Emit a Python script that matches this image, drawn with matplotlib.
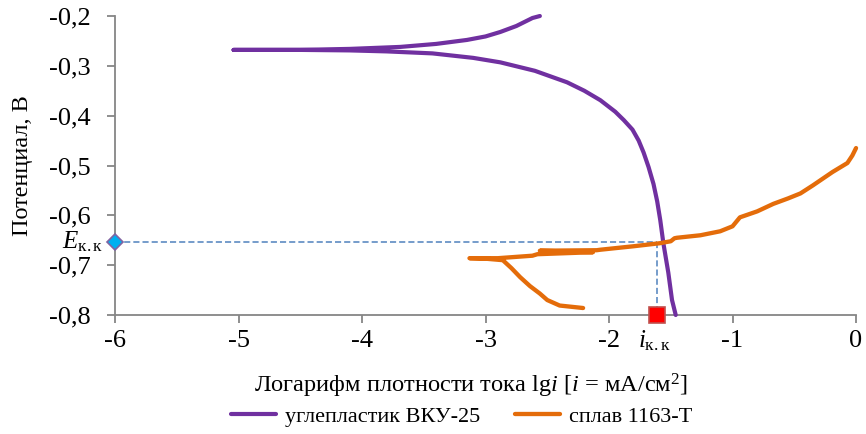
import matplotlib
matplotlib.use("Agg")
import matplotlib.pyplot as plt
from matplotlib.ticker import FuncFormatter

plt.rcParams['font.family'] = ['Liberation Serif', 'DejaVu Serif']
plt.rcParams['mathtext.fontset'] = 'custom'
plt.rcParams['mathtext.rm'] = 'Liberation Serif'
plt.rcParams['mathtext.it'] = 'Liberation Serif:italic'

# углепластик ВКУ-25 (верхняя ветвь -> горизонталь -> нижняя ветвь)
vku_x = [-2.56, -2.62, -2.75, -2.88, -3.00, -3.15, -3.40, -3.69, -4.10, -4.50, -5.04,
         -4.50, -4.10, -3.80, -3.43, -3.10, -2.88, -2.60, -2.34, -2.20, -2.07, -1.95,
         -1.88, -1.81, -1.76, -1.72, -1.68, -1.64, -1.61, -1.585, -1.56, -1.52, -1.49, -1.46]
vku_y = [-0.200, -0.204, -0.220, -0.232, -0.241, -0.248, -0.256, -0.262, -0.266, -0.268, -0.268,
         -0.268, -0.269, -0.271, -0.275, -0.284, -0.293, -0.310, -0.333, -0.350, -0.369, -0.392,
         -0.409, -0.428, -0.450, -0.474, -0.503, -0.537, -0.572, -0.610, -0.656, -0.715, -0.770, -0.800]

# сплав 1163-Т
spl_x = [-2.21, -2.40, -2.50, -2.56, -2.64, -2.72, -2.79, -2.86, -3.00, -3.13,
         -2.90, -2.62, -2.58, -2.13, -2.56, -2.10, -2.07, -1.80, -1.59, -1.50,
         -1.47, -1.45, -1.26, -1.10, -1.00, -0.96, -0.94, -0.80, -0.67, -0.55,
         -0.45, -0.35, -0.19, -0.07, -0.03, 0.00]
spl_y = [-0.786, -0.781, -0.770, -0.757, -0.742, -0.724, -0.706, -0.690, -0.687, -0.686,
         -0.686, -0.681, -0.678, -0.674, -0.671, -0.670, -0.669, -0.662, -0.656, -0.652,
         -0.646, -0.645, -0.640, -0.632, -0.622, -0.610, -0.604, -0.592, -0.577, -0.566,
         -0.556, -0.540, -0.513, -0.495, -0.480, -0.465]

# точка коррозионной пары
e_kk = -0.653
i_kk = -1.61

fig = plt.figure(figsize=(8.66, 4.34), dpi=100)
ax = fig.add_axes([0.1328, 0.2742, 0.8557, 0.6889])

ax.plot(vku_x, vku_y, color='#7030a0', lw=3.0, solid_capstyle='round',
        solid_joinstyle='round', clip_on=False, label='углепластик ВКУ-25', zorder=3)
ax.plot(spl_x, spl_y, color='#e46c0a', lw=3.1, solid_capstyle='round',
        solid_joinstyle='round', clip_on=False, label='сплав 1163-Т', zorder=3)

ax.plot([-6, i_kk], [e_kk, e_kk], color='#4f81bd', lw=1.1, ls=(0, (4, 2)), zorder=2)
ax.plot([i_kk, i_kk], [e_kk, -0.8], color='#4f81bd', lw=1.1, ls=(0, (4, 2)), zorder=2)
ax.plot([-6], [e_kk], marker='D', ms=8, mfc='#00b0f0', mec='#8064a2', mew=1.2,
        clip_on=False, zorder=5)
ax.plot([i_kk], [-0.8], marker='s', ms=11, mfc='#ff0000', mec='#c0504d', mew=1.2,
        clip_on=False, zorder=5)

ax.set_xlim(-6, 0)
ax.set_ylim(-0.8, -0.2)
ax.set_xticks([-6, -5, -4, -3, -2, -1, 0])
ax.set_yticks([-0.8, -0.7, -0.6, -0.5, -0.4, -0.3, -0.2])
ax.xaxis.set_major_formatter(FuncFormatter(lambda v, p: '%d' % round(v)))
ax.yaxis.set_major_formatter(FuncFormatter(lambda v, p: ('%.1f' % v).replace('.', ',')))

for s in ['top', 'right']:
    ax.spines[s].set_visible(False)
for s in ['left', 'bottom']:
    ax.spines[s].set_color('#868686')
    ax.spines[s].set_linewidth(1.3)
ax.tick_params(direction='out', length=5.8, width=1.3, color='#868686', labelsize=19)
ax.tick_params(axis='x', pad=5)
ax.tick_params(axis='y', pad=12)

ax.set_ylabel('Потенциал, В', fontsize=17.5)
ax.set_xlabel('Логарифм плотности тока lg$i$ [$i$ = мА/см$^2$]', fontsize=17.6)
ax.yaxis.set_label_coords(-0.11, 0.5)
ax.xaxis.set_label_coords(0.48, -0.19)

ax.annotate('$E_{\\mathrm{к.к}}$', xy=(-6, e_kk), xytext=(-8, 0),
            textcoords='offset points', ha='right', va='center', fontsize=18,
            annotation_clip=False)
ax.annotate('$i_{\\mathrm{к.к}}$', xy=(i_kk, -0.8), xytext=(-2, -10),
            textcoords='offset points', ha='center', va='top', fontsize=18,
            annotation_clip=False)

fig.legend(loc='lower center', bbox_to_anchor=(0.533, -0.03), ncol=2,
           frameon=False, fontsize=16, handlelength=2.0, columnspacing=1.6,
           handletextpad=0.4)

fig.savefig('out.png', dpi=100)
